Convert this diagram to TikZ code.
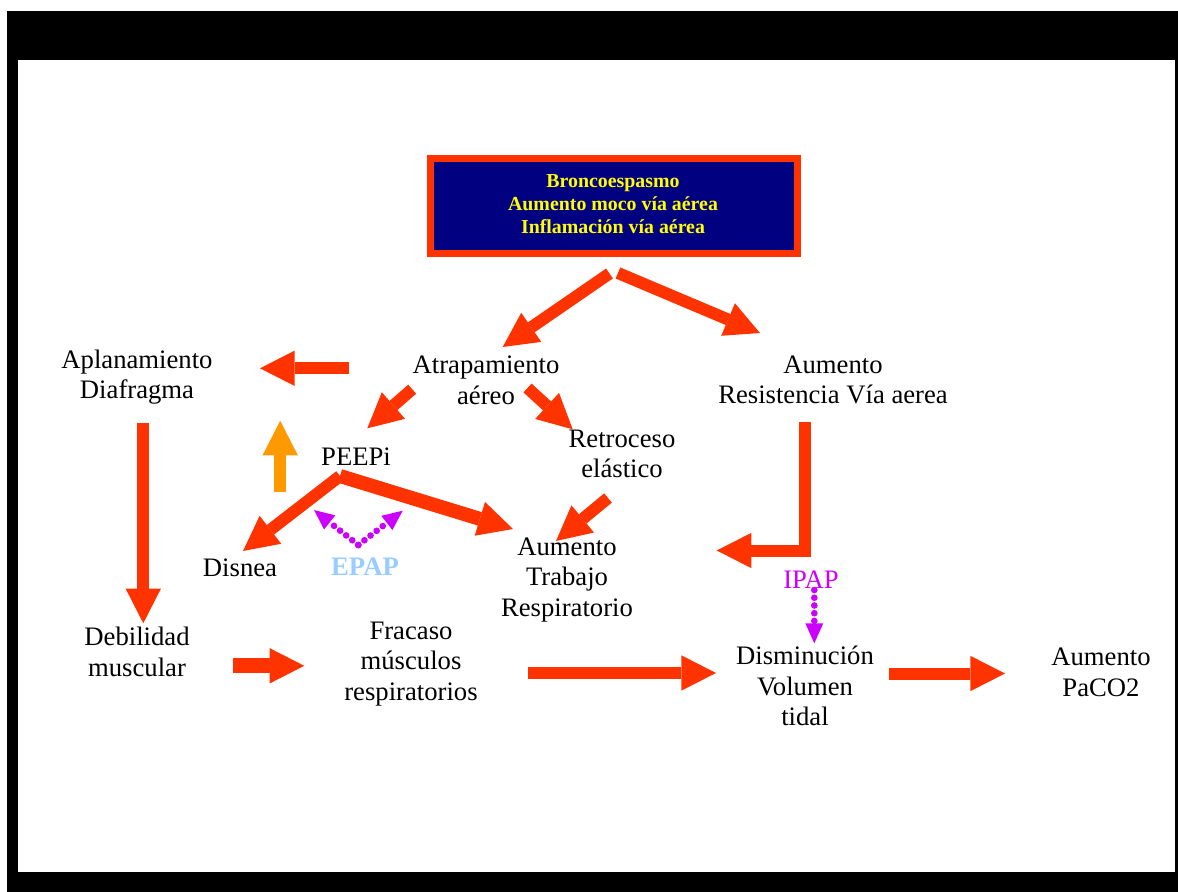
\documentclass[tikz,border=0pt]{standalone}
\usepackage{fontspec}
\setmainfont{Liberation Serif}
\usetikzlibrary{arrows.meta}
\definecolor{arr}{HTML}{FF3300}
\definecolor{navyc}{HTML}{000080}
\definecolor{yel}{HTML}{FFFF00}
\definecolor{mag}{HTML}{CC00FF}
\definecolor{lblue}{HTML}{99CCFF}
\definecolor{orng}{HTML}{FF9900}
\tikzset{
  txt/.style={font=\fontsize{20}{23}\selectfont, align=center, inner sep=0pt},
  fat/.style={draw=arr, line width=9pt, -{Triangle[length=26pt,width=26.5pt,line width=0pt]}},
  fatorange/.style={fat, draw=orng},
  dots/.style={draw=mag, line width=5pt, line cap=round, dash pattern=on 0pt off 5.8pt,
     -{Triangle[length=15pt,width=13.5pt,line width=0pt]}},
}
\begin{document}
\begin{tikzpicture}[x=0.75pt,y=-0.75pt]
\useasboundingbox (0,0) rectangle (1178,892);
% frame
\fill[black] (7,11) rectangle (1178,892);
\fill[white] (18,60) rectangle (1175,872);
% top box
\node[draw=arr, line width=4.9pt, fill=navyc, minimum width=275.6pt, minimum height=71.6pt, inner sep=0pt] (box) at (614,206) {};
\node[font=\fontsize{14.9}{17.25}\selectfont\bfseries, text=yel, align=center, inner sep=0pt] (boxtxt) at (613,204)
  {Broncoespasmo\\Aumento moco vía aérea\\Inflamación vía aérea};
% text nodes
\node[txt] (aplan) at (137,377) {Aplanamiento\\Diafragma};
\node[txt] (atrap) at (486,380) {Atrapamiento\\aéreo};
\node[txt] (resist) at (833,380) {Aumento\\Resistencia Vía aerea};
\node[txt] (peepi) at (356,457) {PEEPi};
\node[txt] (retro) at (622,454) {Retroceso\\elástico};
\node[txt] (disnea) at (240,568) {Disnea};
\node[txt] (trabajo) at (567,580) {Aumento\\Trabajo\\Respiratorio};
\node[txt] (debil) at (137,652) {Debilidad\\muscular};
\node[txt] (fracaso) at (411,664) {Fracaso\\músculos\\respiratorios};
\node[txt] (dismin) at (805,686) {Disminución\\Volumen\\tidal};
\node[txt] (paco) at (1101,672) {Aumento\\PaCO2};
\node[txt, font=\fontsize{20}{23}\selectfont\bfseries, text=lblue] (epap) at (365,567) {EPAP};
\node[txt, text=mag] (ipap) at (811,580) {IPAP};
% arrow coordinates
\coordinate (b1s) at (609.5,273.5); \coordinate (b1e) at (502.7,347);
\coordinate (b2s) at (618,273);     \coordinate (b2e) at (760,333);
\coordinate (a3s) at (349.3,368.3); \coordinate (a3e) at (260,368.3);
\coordinate (a4s) at (412.2,389.2); \coordinate (a4e) at (367.3,428.3);
\coordinate (a5s) at (527.5,388);   \coordinate (a5e) at (572.7,429.3);
\coordinate (o6s) at (280.2,492.3); \coordinate (o6e) at (280.2,420.7);
\coordinate (pv)  at (340,476);
\coordinate (a7e) at (243,551);
\coordinate (a8e) at (513,529);
\coordinate (a9s) at (608,498);     \coordinate (a9e) at (556,541);
\coordinate (lts) at (805,422);     \coordinate (ltc) at (805,550.5); \coordinate (lte) at (716.7,550.5);
\coordinate (dvs) at (143.3,422.7); \coordinate (dve) at (143.3,623.3);
\coordinate (h1s) at (233.3,665.8); \coordinate (h1e) at (304.3,665.8);
\coordinate (h2s) at (528.3,673);   \coordinate (h2e) at (716,673);
\coordinate (h3s) at (889.3,673.5); \coordinate (h3e) at (1005,673.5);
\coordinate (ips) at (814.3,590);   \coordinate (ipe) at (814.3,643.3);
\coordinate (ev)  at (358.3,545);
\coordinate (el)  at (314,510);     \coordinate (er) at (402.7,510.7);
% block arrows
\draw[fat] (b1s) -- (b1e);
\draw[fat] (b2s) -- (b2e);
\draw[fat] (a3s) -- (a3e);
\draw[fat] (a4s) -- (a4e);
\draw[fat] (a5s) -- (a5e);
\draw[fatorange] (o6s) -- (o6e);
\draw[fat] (pv) -- (a7e);
\draw[fat, line width=10.5pt] (pv) -- (a8e);
\draw[fat] (a9s) -- (a9e);
\draw[fat, line join=miter] (lts) -- (ltc) -- (lte);
\draw[fat] (dvs) -- (dve);
\draw[fat, line width=11pt] (h1s) -- (h1e);
\draw[fat] (h2s) -- (h2e);
\draw[fat] (h3s) -- (h3e);
% dotted arrows
\draw[dots] (ips) -- (ipe);
\draw[dots] (ev) -- (el);
\draw[dots] (ev) -- (er);
\end{tikzpicture}
\end{document}
